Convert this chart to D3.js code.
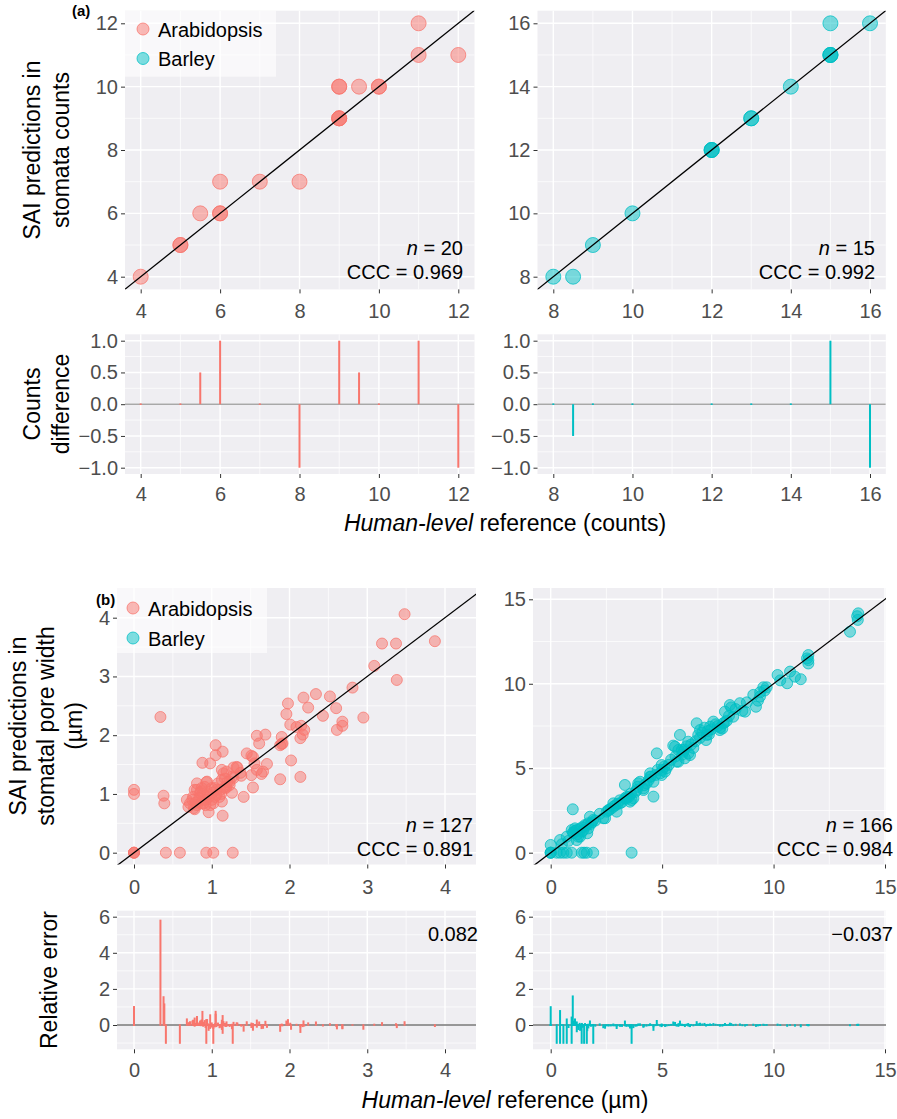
<!DOCTYPE html>
<html><head><meta charset="utf-8">
<script src="https://cdnjs.cloudflare.com/ajax/libs/d3/7.8.5/d3.min.js"></script>
<style>body{margin:0;background:#fff} svg text{font-family:"Liberation Sans",Arial,Helvetica,sans-serif}</style>
</head><body><svg id="c" width="897" height="1119"></svg>
<script>
// ---------------- DATA ----------------
const species = ["Arabidopsis", "Barley"];
// (a) stomata counts: human reference vs SAI prediction
const araCountRef  = [4,5,5,5.5,6,6,6,7,8,9,9,9,9,9,9.5,10,10,11,11,12];
const araCountPred = [4,5,5,6,7,6,6,7,7,10,10,9,9,9,10,10,10,12,11,11];
const barCountRef  = [8,8.5,9,10,12,12,12,13,13,14,15,15,15,15,16];
const barCountPred = [8,8,9,10,12,12,12,13,13,14,15,15,15,16,16];
// (a) counts difference bars
const araDiffX = [4,5,5.5,6,7,8,9,9.5,10,11,12];
const araDiffY = [0,0,0.5,1,0,-1,1,0.5,0,1,-1];
const barDiffX = [8,8.5,9,10,12,13,14,15,16];
const barDiffY = [0,-0.5,0,0,0,0,0,1,-1];
const countStats = [{n:20, ccc:"0.969"}, {n:15, ccc:"0.992"}];
// (b) pore width (µm): [human reference, SAI prediction]
const araPore = [
[0,0],[0,0],[0,0],[0,1.0],[0,1.07],[0.34,2.31],[0.38,0.97],[0.39,0.84],[0.41,0],[0.59,0],[0.93,0],[1.02,0],[1.27,0],
[3.48,4.06],[3.87,3.60],[3.19,3.56],[3.37,3.56],[3.38,2.94],[3.09,3.18],[2.81,2.81],[2.95,2.30],[2.52,2.66],[2.34,2.70],
[2.18,2.64],[2.24,2.47],[2.60,2.46],[2.43,2.33],[2.68,2.23],[2.68,2.16],[2.61,2.09],[1.98,2.54],[1.96,2.36],[2.01,2.18],
[2.09,2.14],[2.15,2.16],[2.19,2.09],[2.14,1.95],[2.17,2.01],[1.90,1.97],[1.91,1.86],[1.88,1.83],[2.02,1.57],[1.88,1.25],[2.14,1.29],
[1.69,2.01],[1.58,1.99],[1.61,1.86],[1.71,1.51],[1.45,1.69],[1.53,1.63],[1.55,1.52],[1.58,1.41],[1.64,1.34],[1.53,1.11],
[1.51,1.32],[1.38,1.31],[1.41,0.95],[1.32,1.46],[1.28,1.45],[1.05,1.83],[1.14,1.72],[1.05,1.66],[0.88,1.53],[0.98,1.52],
[1.13,1.41],[1.19,1.38],[1.26,1.29],[1.23,1.21],[1.13,1.24],[1.08,1.18],[0.93,1.20],[0.81,1.18],[0.78,1.07],[0.85,1.02],
[0.76,0.95],[0.72,0.84],[0.81,0.81],[0.89,0.84],[0.93,0.90],[1.01,1.02],[1.00,0.90],[1.04,0.95],[1.11,1.07],[1.17,1.12],
[1.26,1.02],[1.18,1.10],[0.98,0.81],[0.96,0.69],[1.14,0.63],[0.70,0.78],[0.78,0.74],[0.89,1.01],[0.68,0.90],[1.06,1.07],
[0.87,1.10],[0.91,1.12],[1.15,1.35],[1.33,1.45],[1.51,1.65],[1.66,1.38],[1.23,1.15],[1.17,1.26],[1.13,0.87],[0.94,1.21],
[0.81,1.07],[0.86,1.04],[0.84,0.93],[1.04,1.10],[1.06,0.98],[0.96,0.95],[0.77,0.76],[0.86,0.84],[0.90,0.90],[1.02,0.84],
[1.19,1.12],[1.28,1.27],[1.37,1.36],[1.90,1.85],[0.75,0.90],[0.92,0.81],[0.95,1.00],[1.10,0.95],[0.83,0.88],[1.20,1.20],
[1.00,1.10],[1.12,1.00],[0.79,0.85]
];
const barPore = [
[0,0],[0,0],[0,0],[0.27,0],[0.57,0],[0.94,0],[1.39,0],[1.5,0],[1.62,0],[1.91,0],[3.63,0],
[0,0.46],[0.42,0],[0.72,0],[0.42,0.75],[0.5,0.5],[0.72,0.95],[0.8,0.7],[0.99,2.57],
[0.94,1.34],[1.09,1.44],[1.02,1.15],[1.24,0.95],[1.39,1.24],[1.64,1.15],[1.76,2.13],[1.91,1.94],[1.54,1.64],[1.69,1.44],
[1.17,0.75],[1.17,1.35],[1.32,0.95],[1.69,1.74],[1.10,1.30],[1.30,1.40],[1.45,1.30],[1.85,1.80],[1.0,1.2],[1.2,1.1],
[1.4,1.5],[1.6,1.6],[1.8,1.7],[2.0,1.9],
[2.2,2.3],[2.36,2.04],[2.44,2.04],[2.51,2.43],[2.59,2.53],[2.6,2.5],[2.7,2.6],[2.81,2.72],[2.96,2.43],[2.81,2.92],
[2.9,2.8],[3.0,2.9],[3.11,2.92],[3.1,3.1],[3.2,3.0],[3.33,3.22],[3.4,3.2],[3.5,3.3],[3.56,3.02],[3.6,3.5],
[3.71,3.22],[3.41,3.31],[3.63,3.12],[3.8,3.6],[3.86,3.71],[3.9,3.9],[3.33,4.01],[3.93,4.11],[4.16,3.81],[4.16,3.71],
[4.01,4.20],[4.2,4.0],[4.3,4.1],[4.4,4.3],[4.46,4.50],[4.5,4.5],[4.61,4.20],[4.61,3.32],[4.46,4.70],[4.7,4.6],
[4.8,4.9],[4.91,4.70],[4.98,4.60],[5.0,4.9],[5.13,4.80],[5.1,5.1],[5.20,5.00],[4.98,5.19],[4.76,5.88],[5.3,5.2],[5.4,5.5],
[5.58,6.28],[5.6,5.7],[5.88,6.08],[5.9,5.8],[6.18,5.88],[5.73,5.39],[5.80,6.97],[5.50,6.34],[5.73,6.08],[5.95,5.98],
[6.0,6.1],[6.1,6.3],[6.25,5.78],[6.02,5.59],[5.65,5.39],[6.17,6.57],[6.3,6.4],[6.4,6.2],[6.5,6.6],[6.55,7.66],
[6.70,7.26],[6.62,6.97],[6.7,6.8],[6.8,7.1],[6.9,7.4],[7.00,6.97],[6.97,6.67],[7.05,7.2],[7.1,7.0],[7.2,7.3],
[7.30,7.76],[7.15,7.46],[7.4,7.6],[7.5,7.5],[7.6,7.4],[7.74,7.66],[7.59,7.26],[7.7,7.35],[7.8,7.7],[7.9,7.8],
[8.0,8.1],[8.04,8.74],[7.82,8.35],[8.1,8.6],[8.19,8.05],[8.3,8.5],[8.49,8.85],[8.6,8.4],[8.72,8.35],[8.8,8.9],
[9.09,9.34],[9.39,9.24],[9.21,8.64],[9.3,9.0],[9.4,9.5],[9.54,9.79],[9.6,9.6],[9.69,9.79],[10.18,10.52],[10.3,10.2],
[10.61,10.03],[10.74,10.72],[10.96,10.42],[11.22,10.27],[11.5,11.5],[11.56,11.70],[11.56,11.4],[11.56,11.2],
[13.43,13.08],[13.75,14.0],[13.78,13.78],[13.80,14.17]
];
const poreStats = [{n:127, ccc:"0.891", mre:"0.082"}, {n:166, ccc:"0.984", mre:"\u22120.037"}];
// tick values
const ticksA1 = [4,6,8,10,12], minorA1 = [5,7,9,11];
const ticksA2 = [8,10,12,14,16], minorA2 = [9,11,13,15];
const ticksDiff = [-1,-0.5,0,0.5,1], minorDiff = [-0.75,-0.25,0.25,0.75];
const ticksB1 = [0,1,2,3,4], minorB1 = [0.5,1.5,2.5,3.5];
const ticksB2 = [0,5,10,15], minorB2 = [2.5,7.5,12.5];
const ticksRel = [0,2,4,6], minorRel = [-1,1,3,5];

// ---------------- DRAW ----------------
const RED = "#F8766D", TEAL = "#00BFC4", BG = "#EFEEF2";
const FONT = '"Liberation Sans",Arial,Helvetica,sans-serif';
const svg = d3.select("#c");
const defs = svg.append("defs");
let clipN = 0;

function panel(c) {
  const x = d3.scaleLinear().domain(c.xd).range(c.xr);
  const y = d3.scaleLinear().domain(c.yd).range(c.yr);
  const g = svg.append("g");
  g.append("rect").attr("x", c.l).attr("y", c.t).attr("width", c.r - c.l).attr("height", c.b - c.t).attr("fill", BG);
  const id = "clip" + (clipN++);
  defs.append("clipPath").attr("id", id).append("rect")
    .attr("x", c.l).attr("y", c.t).attr("width", c.r - c.l).attr("height", c.b - c.t);
  const grid = g.append("g");
  grid.selectAll(".xm").data(c.xm).join("line").attr("x1", d => x(d)).attr("x2", d => x(d))
    .attr("y1", c.t).attr("y2", c.b).attr("stroke", "#fff").attr("stroke-width", 0.7);
  grid.selectAll(".ym").data(c.ym).join("line").attr("y1", d => y(d)).attr("y2", d => y(d))
    .attr("x1", c.l).attr("x2", c.r).attr("stroke", "#fff").attr("stroke-width", 0.7);
  grid.selectAll(".xM").data(c.xt).join("line").attr("x1", d => x(d)).attr("x2", d => x(d))
    .attr("y1", c.t).attr("y2", c.b).attr("stroke", "#fff").attr("stroke-width", 1.4);
  grid.selectAll(".yM").data(c.yt).join("line").attr("y1", d => y(d)).attr("y2", d => y(d))
    .attr("x1", c.l).attr("x2", c.r).attr("stroke", "#fff").attr("stroke-width", 1.4);
  const ax = g.append("g").attr("transform", `translate(0,${c.b})`)
    .call(d3.axisBottom(x).tickValues(c.xt).tickSize(4).tickPadding(c.xpad).tickFormat(d3.format("d")));
  const ay = g.append("g").attr("transform", `translate(${c.l},0)`)
    .call(d3.axisLeft(y).tickValues(c.yt).tickSize(4).tickPadding(c.ypad).tickFormat(c.yf || d3.format("d")));
  [ax, ay].forEach(a => {
    a.select(".domain").remove();
    a.selectAll(".tick line").attr("stroke", "#333").attr("stroke-width", 1);
    a.selectAll(".tick text").attr("fill", "#4D4D4D").style("font-size", "20px").style("font-family", FONT);
  });
  const plot = g.append("g").attr("clip-path", `url(#${id})`);
  return {x, y, g, plot, c};
}

function diagonal(p) {
  const lo = Math.min(p.x.invert(p.c.l), p.y.invert(p.c.b)) - 1;
  const hi = Math.max(p.x.invert(p.c.r), p.y.invert(p.c.t)) + 1;
  p.plot.append("line").attr("x1", p.x(lo)).attr("y1", p.y(lo)).attr("x2", p.x(hi)).attr("y2", p.y(hi))
    .attr("stroke", "#000").attr("stroke-width", 1.3);
}
function points(p, data, color, r) {
  p.plot.append("g").selectAll("circle").data(data).join("circle")
    .attr("cx", d => p.x(d[0])).attr("cy", d => p.y(d[1])).attr("r", r)
    .attr("fill", color).attr("fill-opacity", 0.5)
    .attr("stroke", color).attr("stroke-opacity", 0.75).attr("stroke-width", 1);
}
function stats(p, xr, yb, n, ccc) {
  const t1 = p.g.append("text").attr("x", xr).attr("y", yb).attr("text-anchor", "end")
    .style("font-size", "20px").attr("fill", "#000");
  t1.append("tspan").style("font-style", "italic").text("n");
  t1.append("tspan").text(" = " + n);
  p.g.append("text").attr("x", xr).attr("y", yb + 24).attr("text-anchor", "end")
    .style("font-size", "20px").attr("fill", "#000").text("CCC = " + ccc);
}
function legend(p, bx, by, bw, bh, cx, cy1, gap, tx) {
  const lg = p.g.append("g");
  lg.append("rect").attr("x", bx).attr("y", by).attr("width", bw).attr("height", bh)
    .attr("fill", "#fff").attr("fill-opacity", 0.6);
  species.forEach((s, i) => {
    const col = i === 0 ? RED : TEAL;
    lg.append("circle").attr("cx", cx).attr("cy", cy1 + i * gap).attr("r", 6)
      .attr("fill", col).attr("fill-opacity", 0.5).attr("stroke", col).attr("stroke-opacity", 0.75);
    lg.append("text").attr("x", tx).attr("y", cy1 + i * gap + 7.5).style("font-size", "20px")
      .attr("fill", "#000").text(s);
  });
}
function diffBars(p, xs, ys, color) {
  p.plot.append("line").attr("x1", p.c.l).attr("x2", p.c.r).attr("y1", p.y(0)).attr("y2", p.y(0))
    .attr("stroke", "#A8A8A8").attr("stroke-width", 1.5);
  p.plot.append("g").selectAll("rect").data(xs.map((v, i) => [v, ys[i]])).join("rect")
    .attr("x", d => p.x(d[0]) - 1).attr("width", 2)
    .attr("y", d => Math.min(p.y(0), p.y(d[1])) - (d[1] === 0 ? 0.75 : 0))
    .attr("height", d => Math.max(1.5, Math.abs(p.y(d[1]) - p.y(0))))
    .attr("fill", color);
}
function relErr(d) { return d[0] === 0 ? (d[1] > 0 ? 1 : 0) : (d[1] - d[0]) / d[0]; }
function relBars(p, data, color) {
  p.plot.append("line").attr("x1", p.c.l).attr("x2", p.c.r).attr("y1", p.y(0)).attr("y2", p.y(0))
    .attr("stroke", "#333").attr("stroke-width", 1);
  p.plot.append("g").selectAll("rect").data(data.map(d => [d[0], relErr(d)])).join("rect")
    .attr("x", d => p.x(d[0]) - 1).attr("width", 2)
    .attr("y", d => Math.min(p.y(0), p.y(d[1])) - 0.75)
    .attr("height", d => Math.abs(p.y(d[1]) - p.y(0)) + 1.5)
    .attr("fill", color);
}
function yTitle(lines, xs, cy) {
  lines.forEach((l, i) => {
    svg.append("text").attr("transform", `translate(${xs[i]},${cy}) rotate(-90)`)
      .attr("text-anchor", "middle").style("font-size", "23px").attr("fill", "#000").text(l);
  });
}
function xTitle(cx, yb, unit) {
  const t = svg.append("text").attr("x", cx).attr("y", yb).attr("text-anchor", "middle")
    .style("font-size", "23px").attr("fill", "#000");
  t.append("tspan").style("font-style", "italic").text("Human-level");
  t.append("tspan").text(" reference (" + unit + ")");
}

// ----- panel (a) -----
const aTL = panel({l:125, r:474.5, t:10.7, b:289.4, xd:[4,12], xr:[140.7,458.3], yd:[4,12], yr:[276.7,23.3],
  xt:ticksA1, yt:ticksA1, xm:minorA1, ym:minorA1, xpad:10, ypad:3});
points(aTL, araCountRef.map((v, i) => [v, araCountPred[i]]), RED, 7.5);
diagonal(aTL);
legend(aTL, 125, 10.7, 151, 66, 143, 29, 29.5, 158);
stats(aTL, 463, 255, countStats[0].n, countStats[0].ccc);

const aTR = panel({l:537.5, r:885.8, t:10.7, b:289.4, xd:[8,16], xr:[553.3,870], yd:[8,16], yr:[276.7,23.3],
  xt:ticksA2, yt:ticksA2, xm:minorA2, ym:minorA2, xpad:10, ypad:3});
points(aTR, barCountRef.map((v, i) => [v, barCountPred[i]]), TEAL, 7.5);
diagonal(aTR);
stats(aTR, 875, 255, countStats[1].n, countStats[1].ccc);

const fmt1 = d3.format(".1f");
const aBL = panel({l:125, r:474.5, t:334.3, b:474, xd:[4,12], xr:[140.7,458.3], yd:[-1,1], yr:[467.7,340.7],
  xt:ticksA1, yt:ticksDiff, xm:minorA1, ym:minorDiff, xpad:9, ypad:3, yf:fmt1});
diffBars(aBL, araDiffX, araDiffY, RED);
const aBR = panel({l:537.5, r:885.8, t:334.3, b:474, xd:[8,16], xr:[553.3,870], yd:[-1,1], yr:[467.7,340.7],
  xt:ticksA2, yt:ticksDiff, xm:minorA2, ym:minorDiff, xpad:9, ypad:3, yf:fmt1});
diffBars(aBR, barDiffX, barDiffY, TEAL);

yTitle(["SAI predictions in", "stomata counts"], [40, 69], 150);
yTitle(["Counts", "difference"], [40, 69], 404);
xTitle(505, 531, "counts");

// ----- panel (b) -----
const bTL = panel({l:117, r:476, t:588, b:864.5, xd:[0,4], xr:[134,445], yd:[0,4], yr:[852.7,617.7],
  xt:ticksB1, yt:ticksB1, xm:minorB1, ym:minorB1, xpad:11, ypad:3});
points(bTL, araPore, RED, 5.5);
diagonal(bTL);
legend(bTL, 117, 588, 150, 65, 133, 608, 30, 148);
stats(bTL, 473, 832, poreStats[0].n, poreStats[0].ccc);

const bTR = panel({l:533, r:886, t:588, b:864.5, xd:[0,15], xr:[550.7,885], yd:[0,15], yr:[852.7,599.3],
  xt:ticksB2, yt:ticksB2, xm:minorB2, ym:minorB2, xpad:11, ypad:3});
points(bTR, barPore, TEAL, 5.5);
diagonal(bTR);
stats(bTR, 893, 832, poreStats[1].n, poreStats[1].ccc);

const bBL = panel({l:117, r:476, t:910.7, b:1049.3, xd:[0,4], xr:[134,445], yd:[0,6], yr:[1025,916.7],
  xt:ticksB1, yt:ticksRel, xm:minorB1, ym:minorRel, xpad:10, ypad:3});
relBars(bBL, araPore, RED);
bBL.g.append("text").attr("x", 478).attr("y", 941).attr("text-anchor", "end").style("font-size", "20px")
  .attr("fill", "#000").text(poreStats[0].mre);
const bBR = panel({l:533, r:886, t:910.7, b:1049.3, xd:[0,15], xr:[550.7,885], yd:[0,6], yr:[1025,916.7],
  xt:ticksB2, yt:ticksRel, xm:minorB2, ym:minorRel, xpad:10, ypad:3});
relBars(bBR, barPore, TEAL);
bBR.g.append("text").attr("x", 893).attr("y", 941).attr("text-anchor", "end").style("font-size", "20px")
  .attr("fill", "#000").text(poreStats[1].mre);

yTitle(["SAI predictions in", "stomatal pore width", "(\u00b5m)"], [26, 54, 82], 726);
yTitle(["Relative error"], [57], 980);
xTitle(505, 1108, "\u00b5m");

// panel tags
svg.append("text").attr("x", 72).attr("y", 16).style("font-size", "15px").style("font-weight", "bold").text("(a)");
svg.append("text").attr("x", 96).attr("y", 605).style("font-size", "15px").style("font-weight", "bold").text("(b)");
</script></body></html>
